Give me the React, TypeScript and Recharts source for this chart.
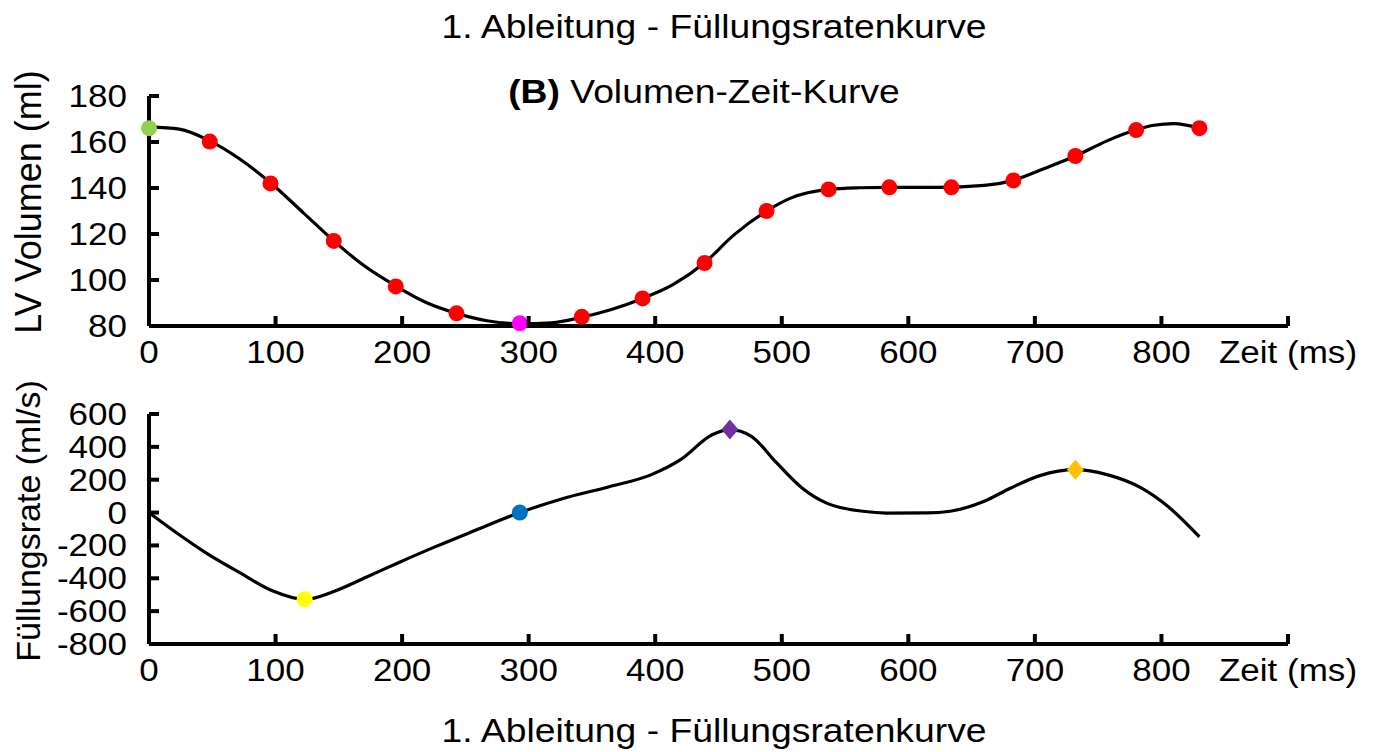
import React from "react";
import { ComposedChart, Line, Scatter, XAxis, YAxis } from "recharts";

// Zeitachse (ms)
const timeTicks = [0, 100, 200, 300, 400, 500, 600, 700, 800, 900];
const volumeTicks = [80, 100, 120, 140, 160, 180];
const rateTicks = [-800, -600, -400, -200, 0, 200, 400, 600];

// Volumen-Zeit-Kurve (ml)
const volumeCurve = [
  { t: 0, v: 166.6 },
  { t: 24, v: 165.6 },
  { t: 48, v: 160.5 },
  { t: 72, v: 152.5 },
  { t: 96, v: 142.3 },
  { t: 122, v: 129.2 },
  { t: 146, v: 117 },
  { t: 169, v: 106.6 },
  { t: 195, v: 97.4 },
  { t: 219, v: 90.2 },
  { t: 243, v: 85.5 },
  { t: 267, v: 82.3 },
  { t: 293, v: 81 },
  { t: 318, v: 81.4 },
  { t: 342, v: 83.8 },
  { t: 366, v: 87.3 },
  { t: 390, v: 92 },
  { t: 414, v: 98 },
  { t: 439, v: 107.5 },
  { t: 462, v: 119.5 },
  { t: 488, v: 130 },
  { t: 507, v: 135.6 },
  { t: 537, v: 139.4 },
  { t: 561, v: 140.1 },
  { t: 585, v: 140.3 },
  { t: 623, v: 140.3 },
  { t: 660, v: 141.1 },
  { t: 683, v: 143.3 },
  { t: 707, v: 148.4 },
  { t: 732, v: 153.9 },
  { t: 757, v: 160.5 },
  { t: 780, v: 165.3 },
  { t: 794, v: 167.3 },
  { t: 810, v: 168 },
  { t: 830, v: 166 },
];

const volumeStart = [{ t: 0, v: 166 }];
const volumeMin = [{ t: 293, v: 81.2 }];
const volumeSamples = [
  { t: 48, v: 160.2 },
  { t: 96, v: 142 },
  { t: 146, v: 117 },
  { t: 195, v: 97.2 },
  { t: 243, v: 85.5 },
  { t: 342, v: 84 },
  { t: 390, v: 92 },
  { t: 439, v: 107.4 },
  { t: 488, v: 130 },
  { t: 537, v: 139.4 },
  { t: 585, v: 140.3 },
  { t: 634, v: 140.3 },
  { t: 683, v: 143.3 },
  { t: 732, v: 153.9 },
  { t: 780, v: 165.2 },
  { t: 830, v: 166 },
];

// 1. Ableitung - Füllungsrate (ml/s)
const rateCurve = [
  { t: 0, v: 0 },
  { t: 22, v: -124 },
  { t: 45, v: -245 },
  { t: 72, v: -367 },
  { t: 98, v: -478 },
  { t: 123, v: -529 },
  { t: 146, v: -480 },
  { t: 172, v: -392 },
  { t: 198, v: -302 },
  { t: 225, v: -212 },
  { t: 256, v: -114 },
  { t: 293, v: 0 },
  { t: 326, v: 83 },
  { t: 363, v: 156 },
  { t: 397, v: 231 },
  { t: 420, v: 322 },
  { t: 445, v: 474 },
  { t: 459, v: 505 },
  { t: 476, v: 464 },
  { t: 496, v: 302 },
  { t: 516, v: 150 },
  { t: 535, v: 59 },
  { t: 564, v: 8 },
  { t: 583, v: -3 },
  { t: 615, v: -2 },
  { t: 633, v: 8 },
  { t: 660, v: 69 },
  { t: 681, v: 150 },
  { t: 704, v: 225 },
  { t: 732, v: 261 },
  { t: 757, v: 231 },
  { t: 784, v: 150 },
  { t: 805, v: 38 },
  { t: 830, v: -148 },
];

const rateMin = [{ t: 123, v: -527 }];
const rateZero = [{ t: 293, v: 0 }];
const ratePeakE = [{ t: 459, v: 505 }];
const ratePeakA = [{ t: 732, v: 261 }];

const FONT = '"Liberation Sans", Arial, sans-serif';
const SX = 1.13; // Schrift leicht in die Breite gezogen

const XTick = (props: any) => {
  const { x, y, payload } = props;
  const label = payload.value === 900 ? "Zeit (ms)" : String(payload.value);
  return (
    <g>
      <line x1={x} x2={x} y1={y} y2={y - 10} stroke="#000" strokeWidth={4} />
      <text
        transform={`translate(${x},${y + 37}) scale(${SX},1)`}
        textAnchor="middle"
        fontSize={31}
        fontFamily={FONT}
        fill="#000"
      >
        {label}
      </text>
    </g>
  );
};

const YTick = (props: any) => {
  const { x, y, payload } = props;
  return (
    <g>
      <line x1={x} x2={x + 10} y1={y} y2={y} stroke="#000" strokeWidth={4} />
      <text
        transform={`translate(${x - 22},${y + 11}) scale(${SX},1)`}
        textAnchor="end"
        fontSize={31}
        fontFamily={FONT}
        fill="#000"
      >
        {payload.value}
      </text>
    </g>
  );
};

const dotShape = (fill: string) => (p: any) =>
  <circle cx={p.cx} cy={p.cy} r={8} fill={fill} />;

const diamondShape = (fill: string) => (p: any) =>
  (
    <polygon
      points={`${p.cx},${p.cy - 10} ${p.cx + 8.5},${p.cy} ${p.cx},${p.cy + 10} ${p.cx - 8.5},${p.cy}`}
      fill={fill}
    />
  );

const axisLine = { stroke: "#000", strokeWidth: 4 };

export default function App() {
  return (
    <div
      style={{
        position: "absolute",
        left: 0,
        top: 0,
        width: 1378,
        height: 752,
        background: "#fff",
        fontFamily: FONT,
      }}
    >
      <div style={{ position: "absolute", left: 0, top: 0 }}>
        <ComposedChart
          width={1378}
          height={380}
          margin={{ top: 96, right: 90, bottom: 0, left: 0 }}
        >
          <XAxis
            type="number"
            dataKey="t"
            domain={[0, 900]}
            ticks={timeTicks}
            interval={0}
            height={54}
            tickSize={0}
            tickMargin={0}
            tickLine={false}
            axisLine={axisLine}
            tick={<XTick />}
          />
          <YAxis
            type="number"
            dataKey="v"
            domain={[80, 180]}
            ticks={volumeTicks}
            interval={0}
            width={149}
            tickSize={0}
            tickMargin={0}
            tickLine={false}
            axisLine={axisLine}
            tick={<YTick />}
          />
          <Line
            data={volumeCurve}
            dataKey="v"
            type="monotone"
            stroke="#000"
            strokeWidth={3.2}
            dot={false}
            isAnimationActive={false}
          />
          <Scatter data={volumeSamples} dataKey="v" shape={dotShape("#ff0000")} isAnimationActive={false} />
          <Scatter data={volumeStart} dataKey="v" shape={dotShape("#92d050")} isAnimationActive={false} />
          <Scatter data={volumeMin} dataKey="v" shape={dotShape("#ff00ff")} isAnimationActive={false} />
        </ComposedChart>
      </div>

      <div style={{ position: "absolute", left: 0, top: 380 }}>
        <ComposedChart
          width={1378}
          height={372}
          margin={{ top: 34, right: 90, bottom: 54, left: 0 }}
        >
          <XAxis
            type="number"
            dataKey="t"
            domain={[0, 900]}
            ticks={timeTicks}
            interval={0}
            height={54}
            tickSize={0}
            tickMargin={0}
            tickLine={false}
            axisLine={axisLine}
            tick={<XTick />}
          />
          <YAxis
            type="number"
            dataKey="v"
            domain={[-800, 600]}
            ticks={rateTicks}
            interval={0}
            width={149}
            tickSize={0}
            tickMargin={0}
            tickLine={false}
            axisLine={axisLine}
            tick={<YTick />}
          />
          <Line
            data={rateCurve}
            dataKey="v"
            type="monotone"
            stroke="#000"
            strokeWidth={3.2}
            dot={false}
            isAnimationActive={false}
          />
          <Scatter data={rateMin} dataKey="v" shape={dotShape("#ffff00")} isAnimationActive={false} />
          <Scatter data={rateZero} dataKey="v" shape={dotShape("#0070c0")} isAnimationActive={false} />
          <Scatter data={ratePeakE} dataKey="v" shape={diamondShape("#7030a0")} isAnimationActive={false} />
          <Scatter data={ratePeakA} dataKey="v" shape={diamondShape("#ffc000")} isAnimationActive={false} />
        </ComposedChart>
      </div>

      <svg
        width={1378}
        height={752}
        style={{ position: "absolute", left: 0, top: 0, pointerEvents: "none" }}
      >
        <g fontFamily={FONT} fill="#000">
          <text transform={`translate(714,38) scale(${SX},1)`} textAnchor="middle" fontSize={33}>
            1. Ableitung - Füllungsratenkurve
          </text>
          <text transform={`translate(704,103) scale(${SX},1)`} textAnchor="middle" fontSize={33}>
            <tspan fontWeight="bold">(B)</tspan> Volumen-Zeit-Kurve
          </text>
          <text transform={`translate(714,742) scale(${SX},1)`} textAnchor="middle" fontSize={33}>
            1. Ableitung - Füllungsratenkurve
          </text>
          <text transform="translate(41,202) rotate(-90)" textAnchor="middle" fontSize={36}>
            LV Volumen (ml)
          </text>
          <text transform="translate(40,521) rotate(-90)" textAnchor="middle" fontSize={34}>
            Füllungsrate (ml/s)
          </text>
        </g>
      </svg>
    </div>
  );
}
